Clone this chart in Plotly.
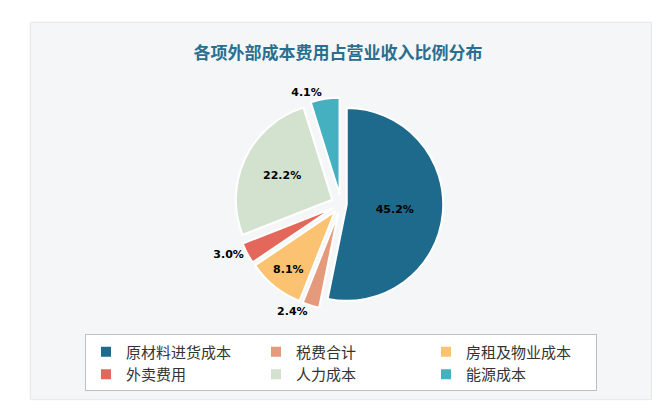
import plotly.graph_objects as go

labels = ['原材料进货成本', '税费合计', '房租及物业成本', '外卖费用', '人力成本', '能源成本']
values = [45.2, 2.4, 8.1, 3.0, 22.2, 4.1]
colors = ['#1d6a8c', '#e59a7c', '#fbc272', '#e3675a', '#d3e2cf', '#45b1c0']
positions = ['inside', 'outside', 'inside', 'outside', 'inside', 'outside']

fig = go.Figure(go.Pie(
    labels=labels, values=values, sort=False, direction='clockwise', rotation=0,
    text=['{:.1f}%'.format(v) for v in values], textinfo='text',
    textposition=positions,
    textfont=dict(family='DejaVu Sans', size=11, color='black', weight='bold'),
    insidetextorientation='horizontal',
    pull=[0.06, 0.1, 0.1, 0.1, 0.1, 0.1],
    marker=dict(colors=colors, line=dict(color='white', width=2)),
    domain=dict(x=[0.2, 0.8], y=[0.26, 0.78]),
))

fig.update_layout(
    width=660, height=408,
    margin=dict(l=0, r=0, t=0, b=0),
    paper_bgcolor='white',
    title=dict(text='<b>各项外部成本费用占营业收入比例分布</b>', x=0.5, y=0.905, xanchor='center',
               font=dict(family='Noto Sans CJK SC', size=17, color='#2a6f8f')),
    showlegend=True,
    legend=dict(orientation='h', x=0.5, xanchor='center', y=0.2, yanchor='top',
                entrywidth=125, bordercolor='#bfbfbf', borderwidth=1, bgcolor='white',
                font=dict(family='Noto Sans CJK SC', size=15, color='#333333'),
                traceorder='normal'),
    shapes=[dict(type='rect', xref='paper', yref='paper', x0=0.025, x1=0.975, y0=0.04, y1=0.965,
                 fillcolor='#f4f6f7', line=dict(color='#e6e6e6', width=1), layer='below')],
)

fig.write_html('out.html')
